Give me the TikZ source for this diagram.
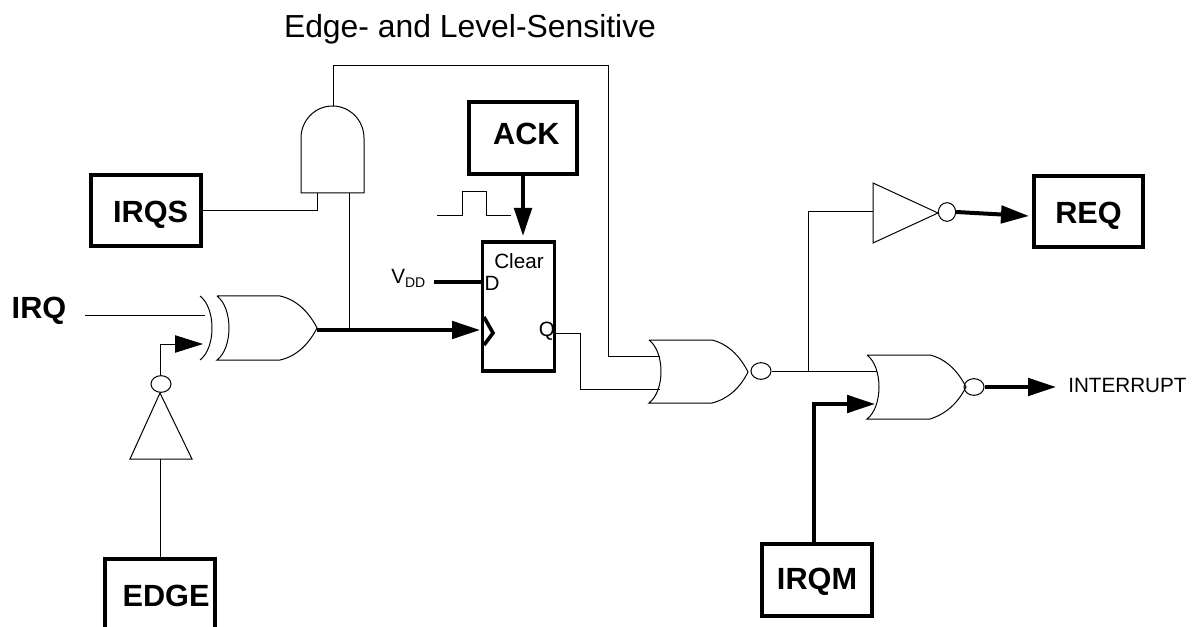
\documentclass[tikz,border=0pt]{standalone}
\usepackage{fontspec}
\setmainfont{Liberation Sans}
\usetikzlibrary{arrows.meta,shapes.geometric}
\tikzset{
  regbox/.style={draw,line width=3pt,inner sep=0pt,text height=16.5pt,text depth=0pt,font=\fontsize{23}{23}\bfseries},
  bubble/.style={draw,ellipse,line width=0.75pt,inner sep=0pt,minimum width=15pt,minimum height=12.5pt},
  wire/.style={line width=0.75pt},
  bus/.style={line width=3pt},
  gate/.style={line width=0.75pt},
  head/.style={-{Triangle[length=21pt,width=13pt]}},
  pinlabel/.style={inner sep=0pt,font=\fontsize{15.5}{15.5}\selectfont},
}
\begin{document}
\begin{tikzpicture}[x=0.75pt,y=-0.75pt]
  \path[use as bounding box,clip] (0,0) rectangle (1192,627);
  \node[anchor=base,inner sep=0pt,font=\fontsize{23.9}{23.9}\selectfont] (title) at (470,38) {Edge- and Level-Sensitive};

  \node[regbox,minimum width=82pt,minimum height=53pt] (irqs) at (146,210.5) {\hspace{7pt}\raisebox{-1pt}{IRQS}};
  \node[regbox,minimum width=81pt,minimum height=54pt] (ack) at (523,138) {\hspace{5pt}\raisebox{3pt}{ACK}};
  \node[regbox,minimum width=82pt,minimum height=53pt] (req) at (1088.5,211.5) {\raisebox{-1pt}{REQ}};
  \node[regbox,minimum width=82pt,minimum height=54pt] (irqm) at (817,580) {\raisebox{1.5pt}{IRQM}};
  \node[regbox,minimum width=82pt,minimum height=54pt] (edge) at (160,595) {\hspace{9pt}EDGE};
  \node[inner sep=0pt,font=\fontsize{23}{23}\bfseries] (irq) at (39,311) {IRQ};
  \coordinate (irqin) at (85,315);

  % and gate
  \draw[gate] (301,193) -- (301,138) arc (180:360:31.5 and 32) -- (364,193) -- cycle;
  \coordinate (anda) at (317,193);
  \coordinate (andb) at (349,193);
  \coordinate (andout) at (333,106);

  % xor gate
  \draw[gate] (200,296) .. controls (216,308) and (216,348) .. (200,360);
  \draw[gate] (217,296) -- (280,296) .. controls (298,300) and (310,314) .. (317,328) .. controls (310,342) and (298,356) .. (280,360) -- (217,360) .. controls (233,348) and (233,308) .. (217,296);
  \coordinate (xorout) at (317,330);
  \coordinate (xora) at (205,315);
  \coordinate (xorb) at (203,344);

  % inverter under xor
  \draw[gate] (160,393) -- (192,459) -- (130,459) -- cycle;
  \node[bubble] (edgeinv) at (161,384) {};
  \coordinate (edgein) at (160,459);

  % flip-flop
  \node[draw,line width=2.7pt,inner sep=0pt,minimum width=54pt,minimum height=97pt] (ff) at (518.5,306.5) {};
  \node[pinlabel] (clear) at (519,261) {Clear};
  \node[pinlabel] (dpin) at (492,283) {D};
  \node[pinlabel] (qpin) at (547,331) {Q};
  \node[pinlabel,anchor=west] (vdd) at (391,278) {V\raisebox{-3pt}{\fontsize{10.5}{10.5}\selectfont DD}};
  \coordinate (vddline) at (434,282);
  \coordinate (ffd) at (481,282);
  \coordinate (ffclk) at (480,330);
  \coordinate (ffq) at (556,333);
  \coordinate (ffclear) at (523,236);
  \draw[line width=2.7pt] (484,317) -- (493,333) -- (484,345);

  % pulse
  \draw[wire] (437,216) -| (462,192) -| (486,216) -- (511,216);

  % first nor gate
  \draw[gate] (649,340) -- (712,340) .. controls (728,344) and (740,356) .. (748,372) .. controls (740,388) and (728,399) .. (712,403) -- (649,403) .. controls (665,391) and (665,352) .. (649,340);
  \node[bubble] (norinv) at (761,371) {};
  \coordinate (nora) at (660,356);
  \coordinate (norb) at (660,389);

  % second nor gate
  \draw[gate] (867,355) -- (930,355) .. controls (946,359) and (958,371) .. (966,387) .. controls (958,403) and (946,414) .. (930,419) -- (867,419) .. controls (883,407) and (883,367) .. (867,355);
  \node[bubble] (intinv) at (974,387) {};
  \coordinate (intb) at (875,404);
  \coordinate (inta) at (877,371);
  \node[pinlabel,anchor=west] (interrupt) at (1068,385) {INTERRUPT};
  \coordinate (inttip) at (1056,387);

  % inverter to req
  \draw[gate] (873,183) -- (938,213) -- (873,243) -- cycle;
  \node[bubble,minimum width=13pt,minimum height=14pt] (reqinv) at (947,212) {};
  \coordinate (reqin) at (873,212);
  \coordinate (reqtip) at (1029,216);

  % connections
  \draw[wire] (irqs.east) -| (anda);
  \draw[wire] (andout) -- (333,66) -| (608,356) -- (nora);
  \draw[wire] (andb) -- (349,330);
  \draw[wire] (irqin) -- (xora);
  \draw[wire] (edgein) -- (edge.north -| edgein);
  \draw[wire,head] (edgeinv.north -| edgein) -- (160,344) -- (xorb);
  \draw[bus,head] (xorout) -- (ffclk);
  \draw[bus,head] (ack.south) -- (ffclear);
  \draw[bus] (vddline) -- (ffd);
  \draw[wire] (ffq) -- (580,333) |- (norb);
  \draw[wire] (norinv.east) -- (inta);
  \draw[wire] (808,371) |- (reqin);
  \draw[bus,head] (reqinv.east) -- (reqtip);
  \draw[bus,head] (intinv.east) -- (inttip);
  \draw[bus,head] (irqm.north -| 814,0) -- (814,404) -- (intb);
\end{tikzpicture}
\end{document}
